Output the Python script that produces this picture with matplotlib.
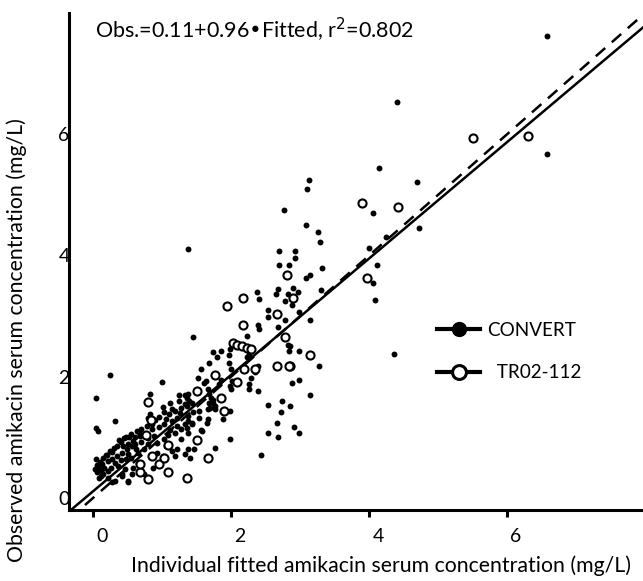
import matplotlib.pyplot as plt
from matplotlib.lines import Line2D
from matplotlib.transforms import ScaledTranslation

plt.rcParams['font.family'] = ['Lato', 'DejaVu Sans']

# CONVERT (filled dots)
convert_x = [6.58, 4.41, 4.14, 4.69, 4.05, 4.72, 4.25, 4.00, 4.11, 4.06, 4.09, 6.58, 4.36, 3.14, 2.98,
             3.30, 2.90, 2.97, 2.88, 2.98, 3.27, 2.98, 2.88, 3.14, 2.85, 2.91, 2.85, 3.13, 3.10, 2.77,
             3.08, 3.26, 3.29, 2.69, 2.93, 2.93, 2.69, 2.84, 3.32, 3.14, 3.08, 2.37, 2.41, 2.68, 2.65,
             2.82, 2.78, 2.53, 2.53, 2.78, 2.39, 2.68, 2.41, 2.23, 2.23, 2.26, 2.83, 2.84, 2.54, 2.74,
             2.72, 2.66, 2.99, 2.53, 2.68, 1.99, 2.44, 1.76, 2.39, 2.39, 2.26, 2.29, 2.35, 1.98, 1.85,
             1.73, 1.80, 1.68, 1.97, 1.97, 2.00, 2.01, 1.99, 2.00, 1.64, 1.71, 1.74, 1.70, 1.77, 1.98,
             1.88, 1.67, 1.65, 1.58, 1.45, 1.57, 1.52, 1.60, 1.67, 1.82, 1.85, 2.26, 1.37, 1.39, 1.36,
             1.68, 1.74, 1.68, 1.67, 1.77, 1.54, 1.45, 1.54, 1.37, 1.43, 1.36, 1.57, 1.37, 1.46, 1.40,
             0.24, 1.00, 0.04, 0.82, 0.31, 0.04, 0.07, 0.50, 0.28, 0.42, 0.56, 0.83, 0.80, 1.01, 1.03,
             1.12, 1.15, 1.24, 1.28, 1.36, 1.33, 1.43, 0.95, 1.03, 1.14, 1.21, 0.86, 0.76, 0.68, 0.58,
             0.50, 0.43, 0.49, 0.42, 0.34, 0.27, 0.21, 0.13, 0.06, 0.04, 0.06, 0.12, 0.21, 0.16, 0.56,
             0.61, 0.50, 0.93, 1.02, 1.08, 1.18, 1.28, 1.33, 1.22, 1.37, 0.80, 0.73, 0.65, 0.65, 0.58,
             0.46, 0.42, 0.50, 0.31, 0.73, 0.87, 0.95, 1.01, 1.22, 1.18, 1.33, 1.14, 1.28, 1.37, 1.43,
             1.25, 1.33, 0.02, 1.37, 0.12, 0.18, 0.28, 0.38, 0.48, 0.63, 0.36, 0.08, 0.22,
             0.10, 0.14, 0.20, 0.25, 0.30, 0.35, 0.40, 0.45, 0.52, 0.55, 0.60, 0.66, 0.70, 0.78, 0.85,
             0.90, 0.95, 1.06, 1.10, 1.18, 1.26, 0.05, 0.09, 0.15, 0.26, 0.32, 0.40, 0.48, 0.55, 0.62,
             0.70, 0.80, 0.88, 1.12, 1.05, 0.92]
convert_y = [7.62, 6.53, 5.45, 5.21, 4.70, 4.45, 4.30, 4.12, 3.85, 3.55, 3.27, 5.67, 2.37, 2.94, 3.07,
             3.43, 3.47, 3.40, 3.18, 2.43, 2.17, 1.95, 1.90, 1.70, 1.52, 1.17, 2.51, 5.25, 5.10, 4.75,
             4.50, 4.39, 4.22, 4.07, 4.07, 3.95, 3.85, 3.85, 3.80, 3.68, 3.63, 3.40, 3.28, 3.45, 3.37,
             3.37, 3.25, 3.10, 2.99, 2.94, 2.85, 2.82, 2.79, 2.67, 2.32, 2.38, 2.53, 2.42, 1.54, 1.60,
             1.42, 1.24, 1.07, 1.07, 1.01, 0.97, 0.71, 0.82, 2.17, 1.77, 1.88, 1.98, 2.08, 2.46, 2.43,
             2.41, 2.32, 2.22, 2.35, 2.22, 2.13, 1.93, 1.85, 1.80, 1.93, 1.65, 1.57, 1.49, 1.47, 1.44,
             1.30, 1.30, 1.24, 1.10, 2.66, 2.12, 1.97, 1.90, 1.80, 1.88, 1.95, 1.80, 1.72, 1.60, 1.52,
             1.72, 1.62, 1.57, 1.47, 1.52, 1.44, 1.42, 1.32, 1.27, 1.22, 1.15, 1.12, 0.81, 0.81, 0.66,
             2.02, 1.92, 1.65, 1.72, 1.27, 1.15, 1.10, 0.26, 0.26, 0.39, 0.39, 1.39, 1.32, 1.50, 1.42,
             1.57, 1.47, 1.60, 1.49, 1.65, 1.55, 1.57, 1.17, 1.22, 1.27, 1.32, 1.14, 1.06, 1.02, 0.94,
             0.89, 0.86, 0.81, 0.74, 0.69, 0.64, 0.61, 0.56, 0.49, 0.64, 0.42, 0.36, 0.44, 0.49, 0.86,
             0.89, 0.72, 0.91, 0.97, 1.04, 1.07, 1.14, 1.22, 1.19, 1.07, 0.89, 0.81, 0.74, 0.57, 0.49,
             0.47, 0.36, 0.28, 0.28, 0.39, 0.49, 0.56, 0.69, 0.81, 0.69, 0.72, 0.77, 0.97, 1.35, 1.24,
             1.69, 1.70, 0.47, 4.10, 0.44, 0.71, 0.76, 0.96, 1.01, 1.11, 0.53, 0.33, 0.33,
             0.60, 0.66, 0.70, 0.78, 0.82, 0.86, 0.92, 0.98, 1.00, 1.06, 1.00, 1.08, 1.14, 1.18, 1.22,
             1.28, 1.34, 1.30, 1.38, 1.44, 1.40, 0.55, 0.52, 0.40, 0.50, 0.58, 0.62, 0.64, 0.66, 0.80,
             0.92, 0.98, 1.02, 1.12, 0.85, 0.74]

# TR02-112 (open circles)
tr_x = [5.50, 6.31, 4.42, 3.90, 3.97, 2.90, 3.14, 2.85, 2.81, 2.17, 2.66, 2.17, 1.94, 2.78, 2.03,
        2.09, 2.16, 2.23, 2.29, 2.66, 2.84, 1.67, 2.19, 2.34, 1.76, 2.08, 1.85, 1.89, 1.51, 1.51,
        1.36, 1.09, 0.80, 0.95, 1.08, 0.68, 0.77, 0.84, 0.79, 1.03, 0.68, 0.86]
tr_y = [5.93, 5.97, 4.80, 4.87, 3.63, 3.30, 2.35, 2.17, 3.67, 3.30, 3.04, 2.85, 3.17, 2.65, 2.55,
        2.53, 2.50, 2.48, 2.46, 2.18, 2.18, 0.66, 2.12, 2.13, 2.02, 1.92, 1.64, 1.44, 1.77, 0.96,
        0.33, 0.42, 0.31, 0.56, 0.87, 0.42, 1.04, 1.29, 1.59, 0.66, 0.56, 0.69]

intercept = 0.11
slope = 0.96
r2 = 0.802

x_min, x_max = -0.35, 7.97
y_min, y_max = -0.2, 8.0

fig = plt.figure(figsize=(6.43, 5.81), dpi=100)
ax = fig.add_axes([69 / 643, 71 / 581, 1 - 69 / 643, 497 / 581])

ax.scatter(convert_x, convert_y, s=18, color='black', linewidths=0, zorder=3)
ax.scatter(tr_x, tr_y, s=34, facecolors='white', edgecolors='black', linewidths=1.5, zorder=3)

ax.plot([x_min, x_max], [intercept + slope * x_min, intercept + slope * x_max],
        color='black', lw=1.8, zorder=2)
ax.plot([x_min, x_max], [x_min, x_max], color='black', lw=1.8, ls=(0, (5, 3.5)), zorder=2)

ax.set_xlim(x_min, x_max)
ax.set_ylim(y_min, y_max)
ax.set_xticks([0, 2, 4, 6])
ax.set_yticks([0, 2, 4, 6])

for s in ['top', 'right']:
    ax.spines[s].set_visible(False)
for s in ['left', 'bottom']:
    ax.spines[s].set_linewidth(2.2)

ax.tick_params(axis='x', length=5, width=2.2, labelsize=14, pad=8)
ax.tick_params(axis='y', length=0, labelsize=14, pad=1)

# tick labels in the original sit a bit to the right of their ticks
shift = ScaledTranslation(9 / 100, 0, fig.dpi_scale_trans)
for lab in ax.get_xticklabels():
    lab.set_transform(lab.get_transform() + shift)
for lab in ax.get_yticklabels():
    lab.set_transform(lab.get_transform() + ScaledTranslation(2 / 100, 0, fig.dpi_scale_trans))

fig.text(381 / 643, 1 - 566 / 581, "Individual fitted amikacin serum concentration (mg/L)",
         ha='center', va='center', fontsize=15.3)
fig.text(17 / 643, 1 - 340 / 581, "Observed amikacin serum concentration (mg/L)",
         ha='center', va='center', rotation=90, fontsize=15.3)

ax.text(0.045, 0.965, f"Obs.={intercept}+{slope}\u2022Fitted, r$^2$={r2}",
        transform=ax.transAxes, ha='left', va='center', fontsize=15.5)

handles = [
    Line2D([], [], color='black', lw=3, marker='o', markersize=10, markerfacecolor='black'),
    Line2D([], [], color='black', lw=3, marker='o', markersize=10, markerfacecolor='white',
           markeredgewidth=2.2),
]
fig.legend(handles, ["CONVERT", "  TR02-112"], loc='upper left',
           bbox_to_anchor=(437 / 643, 1 - 322 / 581), frameon=False, fontsize=13.6,
           handlelength=2.3, handletextpad=0.37, labelspacing=1.35, borderpad=0, borderaxespad=0)

plt.savefig('out.png', dpi=100)
